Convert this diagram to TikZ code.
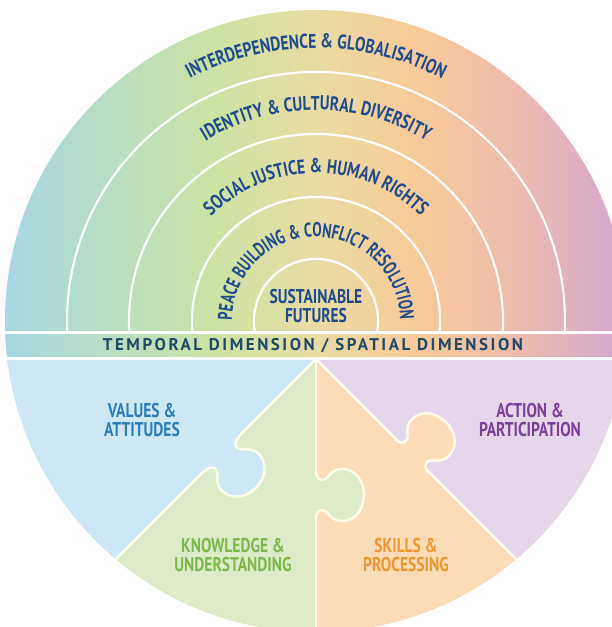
\documentclass[tikz,border=0pt]{standalone}
\usepackage{fontspec}
\setmainfont{PT Sans}
\newfontfamily\condfont[FakeStretch=0.78]{PT Sans}
\newfontfamily\narrowfont[FakeStretch=0.70]{PT Sans}
\newfontfamily\spacedfont[LetterSpace=15]{PT Sans}
\usetikzlibrary{decorations.text}

\definecolor{upblue}{HTML}{A6D7E3}
\definecolor{upgreen}{HTML}{CDE3A3}
\definecolor{upbeige}{HTML}{E9DCA3}
\definecolor{uppeach}{HTML}{F8CA97}
\definecolor{uprose}{HTML}{EDBBAE}
\definecolor{uppink}{HTML}{D3A7D0}
\definecolor{lowblue}{HTML}{CDE8F4}
\definecolor{lowgreen}{HTML}{DDEBC9}
\definecolor{lowpeach}{HTML}{FDDCB7}
\definecolor{lowpurple}{HTML}{E5D6EB}
\definecolor{arcblue}{HTML}{1F4B8E}
\definecolor{bandblue}{HTML}{1D4868}
\definecolor{valblue}{HTML}{2A7DBA}
\definecolor{knowgreen}{HTML}{7DB84A}
\definecolor{skillorange}{HTML}{F0982F}
\definecolor{actpurple}{HTML}{7B3F98}

\pgfdeclarehorizontalshading{rainbow}{100bp}{color(0bp)=(upblue); color(25bp)=(upblue);
  color(42bp)=(upgreen); color(50bp)=(upbeige); color(58bp)=(uppeach);
  color(66bp)=(uprose); color(75bp)=(uppink); color(100bp)=(uppink)}

\newcommand{\arcfont}{\condfont\bfseries\fontsize{20}{20}\selectfont\color{arcblue}}
\newcommand{\peacefont}{\narrowfont\bfseries\fontsize{20}{20}\selectfont\color{arcblue}}

\tikzset{
  ring/.style={white, line width=2.2bp},
  seam/.style={white!92!yellow, line width=2.4bp},
  arctext/.style 2 args={decorate, decoration={text along path, text align=center,
    text format delimiters={[}{]}, text={[#1]#2}}},
  parttext/.style={font=\condfont\bfseries\fontsize{20}{20}\selectfont, align=center},
  pics/knob/.style={code={
    \fill[#1] (-24,-1.6) -- (-24,0) .. controls (-17,0) and (-15,3) .. (-15,7)
      .. controls (-15,12) and (-26,14) .. (-26,26)
      .. controls (-26,40) and (-13,48) .. (0,48)
      .. controls (13,48) and (26,40) .. (26,26)
      .. controls (26,14) and (15,12) .. (15,7)
      .. controls (15,3) and (17,0) .. (24,0) -- (24,-1.6) -- cycle;
    \draw[seam] (-24,0) .. controls (-17,0) and (-15,3) .. (-15,7)
      .. controls (-15,12) and (-26,14) .. (-26,26)
      .. controls (-26,40) and (-13,48) .. (0,48)
      .. controls (13,48) and (26,40) .. (26,26)
      .. controls (26,14) and (15,12) .. (15,7)
      .. controls (15,3) and (17,0) .. (24,0);
  }}
}

\begin{document}
\begin{tikzpicture}[x=1bp,y=1bp]
\useasboundingbox (-316,-306) rectangle (296,321);
\coordinate (apex) at (0,-38);
\begin{scope}
\clip (0,0) circle (311);
\shade[shading=rainbow] (-311,-311) rectangle (311,311);
\foreach \r in {62,124,187,249}
  \draw[ring] (0,0) circle (\r);
\shade[shading=rainbow] (-311,-38) rectangle (311,-12);
\fill[lowgreen] (-311,-38) rectangle (0,-320);
\fill[lowpeach] (0,-38) rectangle (311,-320);
\fill[lowblue] (apex) -- (-320,-358) -- (-320,-38) -- cycle;
\fill[lowpurple] (apex) -- (320,-358) -- (320,-38) -- cycle;
\draw[seam] (apex) -- (0,-320);
\draw[seam] (apex) -- (-320,-358);
\draw[seam] (apex) -- (320,-358);
\pic[rotate=-135] at (-94,-133) {knob=lowblue};
\pic[rotate=-90] at (0,-174) {knob=lowgreen};
\pic[rotate=-45] at (96,-135) {knob=lowpeach};
\draw[ring, line width=3bp] (-311,-12) -- (311,-12);
\draw[ring, line width=3bp] (-311,-38) -- (311,-38);
\end{scope}

\path[arctext={\arcfont}{INTERDEPENDENCE {\&} GLOBALISATION}] (180:273) arc (180:0:273);
\path[arctext={\arcfont}{IDENTITY {\&} CULTURAL DIVERSITY}] (180:211) arc (180:0:211);
\path[arctext={\arcfont}{SOCIAL JUSTICE {\&} HUMAN RIGHTS}] (180:148) arc (180:0:148);
\path[arctext={\peacefont}{PEACE BUILDING {\&} CONFLICT RESOLUTION}] (192:84) arc (192:-12:84);

\node[parttext, arcblue] (futures) at (0,15) {SUSTAINABLE\\FUTURES};
\node[font=\spacedfont\bfseries\fontsize{17}{17}\selectfont, bandblue] (dims) at (-3,-25) {TEMPORAL DIMENSION / SPATIAL DIMENSION};
\node[parttext, valblue] (values) at (-174,-99) {VALUES \&\\ATTITUDES};
\node[parttext, actpurple] (action) at (214,-99) {ACTION \&\\PARTICIPATION};
\node[parttext, knowgreen] (knowledge) at (-83,-234) {KNOWLEDGE \&\\UNDERSTANDING};
\node[parttext, skillorange] (skills) at (90,-234) {SKILLS \&\\PROCESSING};
\end{tikzpicture}
\end{document}
